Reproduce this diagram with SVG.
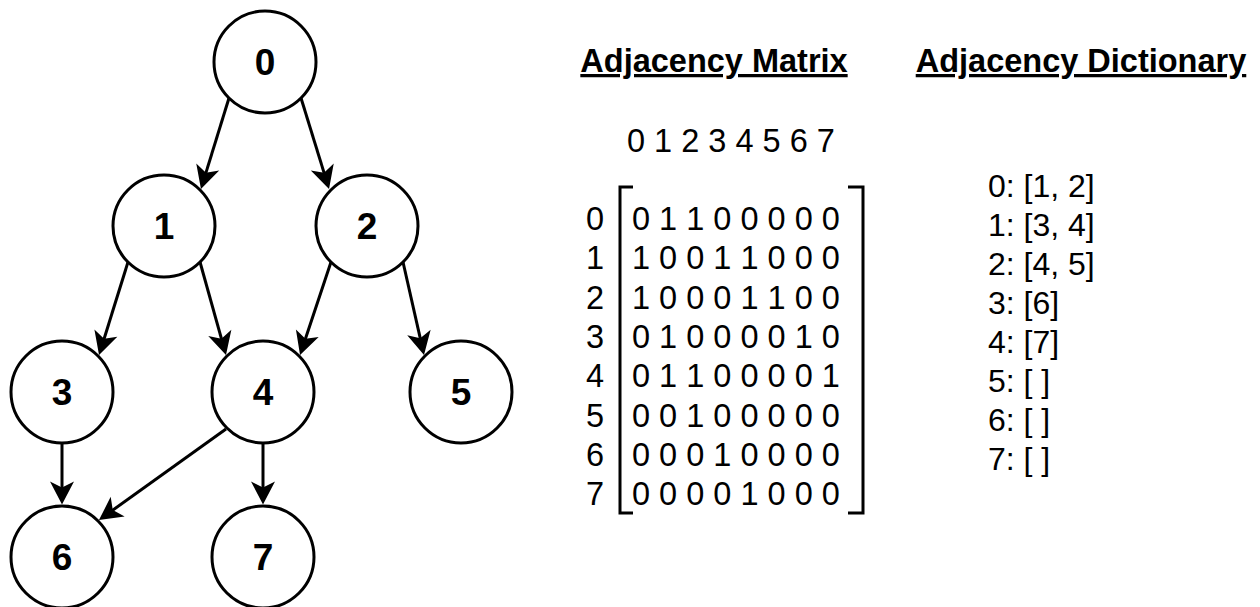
<svg xmlns="http://www.w3.org/2000/svg" width="1260" height="607" viewBox="0 0 1260 607">
<style>
.node circle{fill:#fff;stroke:#000;stroke-width:3}
.node text{font-family:"Liberation Sans",Arial,sans-serif;font-weight:bold;font-size:37px;text-anchor:middle;fill:#000}
.edge{stroke:#000;stroke-width:3;fill:none;marker-end:url(#arr)}
.t{font-family:"Liberation Sans",Arial,sans-serif;font-size:32px;fill:#000}
.m{font-size:32.5px}
.title{font-family:"Liberation Sans",Arial,sans-serif;font-size:32.5px;font-weight:bold;text-anchor:middle;text-decoration:underline;fill:#000}
.br{stroke:#000;stroke-width:3;fill:none}
</style>
<defs>
<marker id="arr" markerUnits="userSpaceOnUse" orient="auto" markerWidth="1" markerHeight="1" refX="0" refY="0" overflow="visible">
<path d="M10,0 L-13,-12 L-7,0 L-13,12 Z" fill="#000"/>
</marker>
</defs>
<rect width="1260" height="607" fill="#fff"/>
<g id="connectors">
<path class="edge" d="M229,98 L203.9,179.4"/>
<path class="edge" d="M301,98 L326.1,179.4"/>
<path class="edge" d="M128,262 L102,345.5"/>
<path class="edge" d="M200,262 L223.3,345.4"/>
<path class="edge" d="M331,262 L303.2,345.5"/>
<path class="edge" d="M403,262 L421.8,345.2"/>
<path class="edge" d="M62,443.5 L62,494.5"/>
<path class="edge" d="M263,443.5 L263,494.5"/>
<path class="edge" d="M226,429 L107.1,514.2"/>
</g>
<g id="node0" class="node"><circle cx="265" cy="62" r="51"/><text x="265" y="75">0</text></g>
<g id="node1" class="node"><circle cx="164" cy="226" r="51"/><text x="164" y="239">1</text></g>
<g id="node2" class="node"><circle cx="367" cy="226" r="51"/><text x="367" y="239">2</text></g>
<g id="node3" class="node"><circle cx="62" cy="392" r="51"/><text x="62" y="405">3</text></g>
<g id="node4" class="node"><circle cx="263" cy="392" r="51"/><text x="263" y="405">4</text></g>
<g id="node5" class="node"><circle cx="461" cy="392" r="51"/><text x="461" y="405">5</text></g>
<g id="node6" class="node"><circle cx="62" cy="557" r="51"/><text x="62" y="570">6</text></g>
<g id="node7" class="node"><circle cx="263" cy="557" r="51"/><text x="263" y="570">7</text></g>
<g id="matrix">
<text class="title" x="714" y="72">Adjacency Matrix</text>
<text class="t m" x="627" y="152">0 1 2 3 4 5 6 7</text>
<path class="br" d="M633,187 L620,187 L620,513 L633,513"/>
<path class="br" d="M848,187 L863,187 L863,513 L848,513"/>
<text class="t m" x="586" y="230">0</text>
<text class="t m" x="586" y="269.3">1</text>
<text class="t m" x="586" y="308.6">2</text>
<text class="t m" x="586" y="347.9">3</text>
<text class="t m" x="586" y="387.2">4</text>
<text class="t m" x="586" y="426.5">5</text>
<text class="t m" x="586" y="465.8">6</text>
<text class="t m" x="586" y="505.1">7</text>
<text class="t m" x="632" y="230">0 1 1 0 0 0 0 0</text>
<text class="t m" x="632" y="269.3">1 0 0 1 1 0 0 0</text>
<text class="t m" x="632" y="308.6">1 0 0 0 1 1 0 0</text>
<text class="t m" x="632" y="347.9">0 1 0 0 0 0 1 0</text>
<text class="t m" x="632" y="387.2">0 1 1 0 0 0 0 1</text>
<text class="t m" x="632" y="426.5">0 0 1 0 0 0 0 0</text>
<text class="t m" x="632" y="465.8">0 0 0 1 0 0 0 0</text>
<text class="t m" x="632" y="505.1">0 0 0 0 1 0 0 0</text>
</g>
<g id="dictionary">
<text class="title" x="1081" y="72">Adjacency Dictionary</text>
<text class="t" x="988" y="197">0: [1, 2]</text>
<text class="t" x="988" y="236">1: [3, 4]</text>
<text class="t" x="988" y="275">2: [4, 5]</text>
<text class="t" x="988" y="314">3: [6]</text>
<text class="t" x="988" y="353">4: [7]</text>
<text class="t" x="988" y="392">5: [ ]</text>
<text class="t" x="988" y="431">6: [ ]</text>
<text class="t" x="988" y="470">7: [ ]</text>
</g>
</svg>
